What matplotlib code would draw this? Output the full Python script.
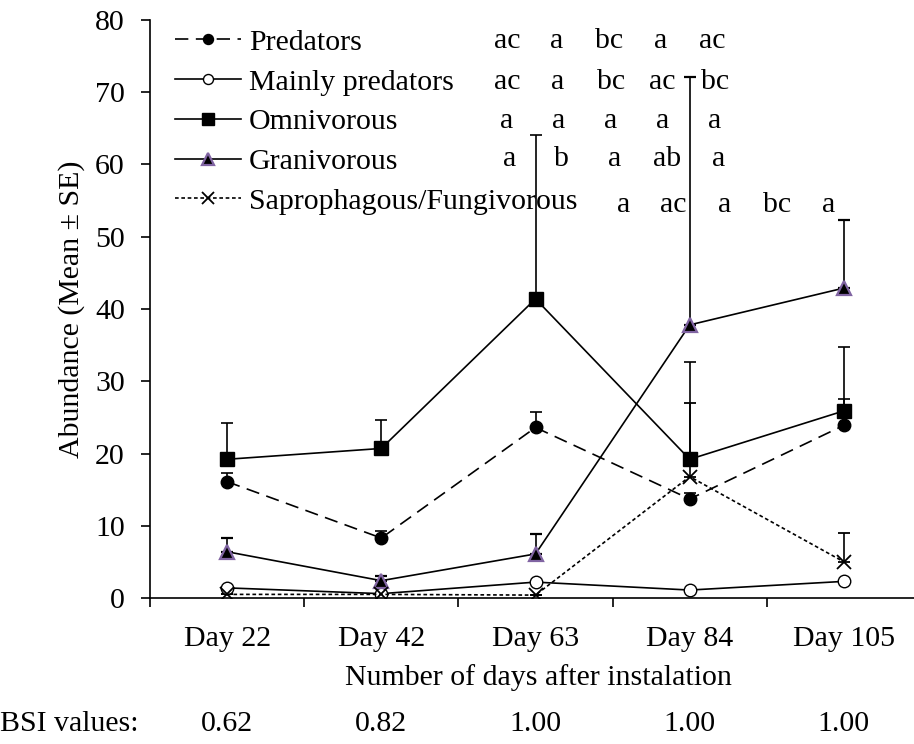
import matplotlib
matplotlib.use("Agg")
import matplotlib.pyplot as plt
import numpy as np

plt.rcParams['font.family'] = ['Liberation Serif', 'DejaVu Serif']

days = ["Day 22", "Day 42", "Day 63", "Day 84", "Day 105"]
bsi = ["0.62", "0.82", "1.00", "1.00", "1.00"]
series_names = ["Predators", "Mainly predators", "Omnivorous", "Granivorous",
                "Saprophagous/Fungivorous"]

predators = [16.1, 8.3, 23.6, 13.7, 23.9]
predators_se = [1.2, 1.0, 2.2, 0.8, 3.6]
mainly_pred = [1.4, 0.6, 2.2, 1.1, 2.3]
mainly_pred_se = [0.0, 0.0, 0.0, 0.0, 0.0]
omnivorous = [19.2, 20.7, 41.4, 19.2, 25.9]
omnivorous_se = [5.0, 4.0, 22.7, 13.4, 8.8]
granivorous = [6.4, 2.4, 6.1, 37.8, 42.9]
granivorous_se = [1.9, 0.7, 2.8, 34.3, 9.4]
saprophagous = [0.5, 0.5, 0.4, 16.8, 5.0]
saprophagous_se = [0.0, 0.0, 0.0, 10.2, 4.0]

letters_pred = ["ac", "a", "bc", "a", "ac"]
letters_mainly = ["ac", "a", "bc", "ac", "bc"]
letters_omni = ["a", "a", "a", "a", "a"]
letters_gran = ["a", "b", "a", "ab", "a"]
letters_sapro = ["a", "ac", "a", "bc", "a"]

FS = 21.5
W, H = 914, 744
fig = plt.figure(figsize=(W / 100, H / 100), dpi=100)
ax_left, ax_right, ax_top, ax_bot = 150, 921, 20, 598
ax = fig.add_axes([ax_left / W, 1 - ax_bot / H, (ax_right - ax_left) / W, (ax_bot - ax_top) / H])

x = np.arange(1, 6)
lw = 1.2
purple = '#8064A2'

def series(vals, se, **kw):
    err = [np.zeros(len(se)), np.array(se)]
    c = ax.errorbar(x, vals, yerr=err, capsize=4, elinewidth=lw, capthick=lw,
                    lw=lw, color='black', **kw)
    return c[0]

h1 = series(predators, predators_se, marker='o', ms=9, mfc='black', mec='black',
            ls=(0, (8, 4.5)))
h2 = series(mainly_pred, mainly_pred_se, marker='o', ms=9, mfc='white', mec='black',
            ls='-')
h3 = series(omnivorous, omnivorous_se, marker='s', ms=10, mfc='black', mec='black',
            ls='-')
h4 = series(granivorous, granivorous_se, marker='^', ms=10, mfc='black', mec=purple,
            mew=1.6, ls='-')
h5 = series(saprophagous, saprophagous_se, marker='x', ms=10, mec='black', mew=1.3,
            ls=(0, (2.2, 1.6)))

ax.set_xlim(0.5, 5.5)
ax.set_ylim(0, 80)
ax.set_yticks(np.arange(0, 81, 10))
ax.set_xticks(x)
ax.set_xticklabels(days)
ax.set_xticks(np.arange(0.5, 5.6, 1), minor=True)
ax.tick_params(axis='x', which='major', length=0, pad=20, labelsize=FS)
ax.tick_params(axis='x', which='minor', length=6.5, width=1.2, direction='out')
ax.tick_params(axis='y', length=6.5, width=1.2, direction='out', labelsize=FS, pad=11.5)
for s in ['top', 'right']:
    ax.spines[s].set_visible(False)
ax.spines['left'].set_linewidth(1.2)
ax.spines['bottom'].set_linewidth(1.2)
ax.spines['bottom'].set_clip_on(False)

ax.set_ylabel('Abundance (Mean ± SE)', fontsize=FS, labelpad=7)
fig.text((340 + 737) / 2 / W, 1 - 678 / H, 'Number of days after instalation',
         ha='center', va='center', fontsize=FS)
fig.text(0, 1 - 724 / H, 'BSI values:', ha='left', va='center', fontsize=FS)
for xi, b in zip(x, bsi):
    xd = ax.transData.transform((xi, 0))[0]
    fig.text(xd / W, 1 - 724 / H, b, ha='center', va='center', fontsize=FS)

leg = ax.legend(handles=[h1, h2, h3, h4, h5], labels=series_names, loc='upper left',
                bbox_to_anchor=((175 - ax_left) / (ax_right - ax_left), 1.0 - 9 / (ax_bot - ax_top)),
                frameon=False, fontsize=FS, handlelength=2.2, handletextpad=0.27,
                labelspacing=0.43, borderaxespad=0, borderpad=0, markerscale=0.8)

rows = [(41, letters_pred, [507, 557, 609, 661, 712]),
        (82, letters_mainly, [507, 558, 611, 662, 715]),
        (121, letters_omni, [507, 559, 611, 663, 715]),
        (159, letters_gran, [510, 561, 615, 667, 719]),
        (205, letters_sapro, [624, 673, 725, 777, 829])]
for yy, labs, xs in rows:
    for xx, lab in zip(xs, labs):
        fig.text(xx / W, 1 - yy / H, lab, ha='center', va='center', fontsize=FS)

fig.savefig('out.png', dpi=100)
